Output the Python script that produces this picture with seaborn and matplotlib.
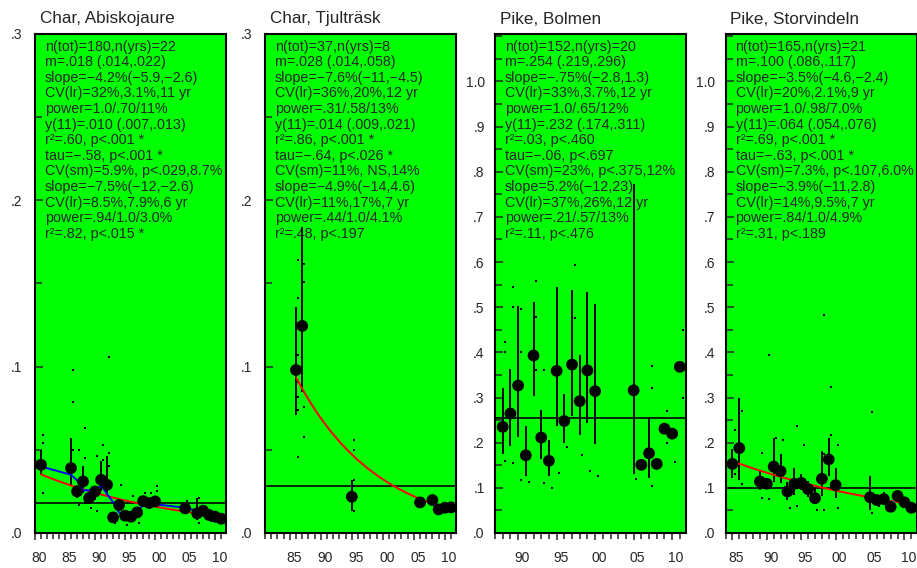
import numpy as np
import pandas as pd
import seaborn as sns
import matplotlib.pyplot as plt
import matplotlib.transforms as mtransforms
from matplotlib.ticker import MultipleLocator, FuncFormatter

sns.set_style("white")
plt.rcParams['font.family'] = ['Liberation Sans', 'DejaVu Sans']

nan = np.nan

# ---- Char, Abiskojaure
years1 = [1981, 1986, 1987, 1988, 1989, 1990, 1991, 1992, 1993, 1994, 1995, 1996, 1997, 1998, 1999, 2000,
          2005, 2007, 2008, 2009, 2010, 2011]
means1 = [.041, .039, .025, .031, .021, .025, .032, .029, .0094, .0168, .0104, .0098, .0124, .0192, .018, .019,
          .0148, .0118, .0134, .0108, .0098, .0086]
lo1 = [.035, .028, .021, .024, .018, .020, .025, .023, .0075, .013, .008, .007, .010, .0155, .016, .0155,
       .012, .008, .012, .009, .0085, .0075]
hi1 = [.050, .057, .029, .040, .025, .028, .043, .046, .011, .019, .0116, .013, .015, .021, .020, .021,
       .017, .021, .015, .012, .011, .0095]
ind_years1 = [1981, 1981, 1981, 1986, 1986, 1986, 1987, 1987, 1988, 1988, 1988, 1989, 1990, 1990, 1991, 1991,
              1992, 1992, 1992, 1993, 1994, 1995, 1996, 1997, 1998, 1999, 2000, 2000, 2005, 2007, 2007, 2008,
              2009, 2011]
ind_vals1 = [.059, .054, .024, .098, .079, .050, .050, .017, .063, .045, .018, .015, .046, .013, .053, .044,
             .106, .048, .040, .006, .029, .005, .022, .006, .024, .024, .028, .025, .019, .021, .006, .011,
             .007, .009]
stats1 = ["n(tot)=180,n(yrs)=22", "m=.018 (.014,.022)", "slope=\u22124.2%(\u22125.9,\u22122.6)",
          "CV(lr)=32%,3.1%,11 yr", "power=1.0/.70/11%", "y(11)=.010 (.007,.013)", "r\u00b2=.60, p<.001 *",
          "tau=\u2212.58, p<.001 *", "CV(sm)=5.9%, p<.029,8.7%", "slope=\u22127.5%(\u221212,\u22122.6)",
          "CV(lr)=8.5%,7.9%,6 yr", "power=.94/1.0/3.0%", "r\u00b2=.82, p<.015 *"]

# ---- Char, Tjulträsk
years2 = [1986, 1987, 1995, 2006, 2008, 2009, 2010, 2011]
means2 = [.098, .1245, .0218, .0184, .0198, .0142, .0152, .0154]
lo2 = [.071, .085, .013, nan, nan, nan, nan, nan]
hi2 = [.136, .184, .032, nan, nan, nan, nan, nan]
ind_years2 = [1986, 1986, 1986, 1986, 1986, 1986, 1986, 1987, 1987, 1987, 1987, 1987,
              1995, 1995, 1995, 1995, 1995, 1995]
ind_vals2 = [.164, .141, .107, .091, .082, .074, .0455, .162, .151, .085, .076, .058,
             .056, .050, .032, .028, .020, .013]
stats2 = ["n(tot)=37,n(yrs)=8", "m=.028 (.014,.058)", "slope=\u22127.6%(\u221211,\u22124.5)",
          "CV(lr)=36%,20%,12 yr", "power=.31/.58/13%", "y(11)=.014 (.009,.021)", "r\u00b2=.86, p<.001 *",
          "tau=\u2212.64, p<.026 *", "CV(sm)=11%, NS,14%", "slope=\u22124.9%(\u221214,4.6)",
          "CV(lr)=11%,17%,7 yr", "power=.44/1.0/4.1%", "r\u00b2=.48, p<.197"]

# ---- Pike, Bolmen
years3 = [1988, 1989, 1990, 1991, 1992, 1993, 1994, 1995, 1996, 1997, 1998, 1999, 2000,
          2005, 2006, 2007, 2008, 2009, 2010, 2011]
means3 = [.235, .2645, .3266, .172, .393, .2113, .160, .359, .248, .373, .292, .36, .314,
          .316, .151, .1766, .153, .231, .220, .368]
lo3 = [.174, .192, .213, .127, .303, .163, .127, .238, .200, .259, .216, .244, .196,
       .131, nan, .122, nan, nan, nan, nan]
hi3 = [.321, .364, .502, .236, .512, .273, .205, .545, .308, .538, .395, .533, .508,
       .772, nan, .257, nan, nan, nan, nan]
ind_years3 = [1988, 1988, 1988, 1989, 1989, 1989, 1990, 1990, 1990, 1991, 1992, 1992, 1992, 1993, 1993, 1994,
              1995, 1996, 1997, 1997, 1998, 1999, 2000, 2005, 2007, 2007, 2007, 2009, 2009, 2010, 2011, 2011]
ind_vals3 = [.423, .40, .16, .545, .50, .155, .497, .40, .117, .113, .559, .478, .36, .36, .110, .10,
             .132, .19, .593, .476, .172, .137, .126, .12, .37, .32, .1035, .27, .20, .157, .449, .30]
stats3 = ["n(tot)=152,n(yrs)=20", "m=.254 (.219,.296)", "slope=\u2212.75%(\u22122.8,1.3)",
          "CV(lr)=33%,3.7%,12 yr", "power=1.0/.65/12%", "y(11)=.232 (.174,.311)", "r\u00b2=.03, p<.460",
          "tau=\u2212.06, p<.697", "CV(sm)=23%, p<.375,12%", "slope=5.2%(\u221212,23)",
          "CV(lr)=37%,26%,12 yr", "power=.21/.57/13%", "r\u00b2=.11, p<.476"]

# ---- Pike, Storvindeln
years4 = [1985, 1986, 1989, 1990, 1991, 1992, 1993, 1994, 1995, 1996, 1997, 1998, 1999, 2000,
          2005, 2006, 2007, 2008, 2009, 2010, 2011]
means4 = [.153, .188, .114, .109, .147, .137, .092, .109, .111, .097, .077, .120, .163, .106,
          .079, .073, .075, .058, .082, .068, .056]
lo4 = [.122, .118, .096, .100, .114, .111, .074, .085, .095, .080, .0675, .081, .1255, .0776,
       .0517, nan, .065, nan, nan, nan, nan]
hi4 = [.185, .298, .137, .120, .211, .174, .114, .144, .130, .115, .100, .181, .211, .144,
       .1255, nan, .090, nan, nan, nan, nan]
ind_years4 = [1985, 1985, 1986, 1986, 1989, 1989, 1990, 1990, 1991, 1992, 1993, 1994, 1994, 1995, 1997, 1998,
              1998, 1998, 1999, 1999, 2000, 2000, 2005, 2005, 2006, 2009, 2011]
ind_vals4 = [.228, .13, .27, .108, .177, .078, .395, .075, .21, .205, .055, .236, .06, .195, .05, .482,
             .175, .052, .324, .216, .195, .056, .267, .045, .06, .09, .047]
stats4 = ["n(tot)=165,n(yrs)=21", "m=.100 (.086,.117)", "slope=\u22123.5%(\u22124.6,\u22122.4)",
          "CV(lr)=20%,2.1%,9 yr", "power=1.0/.98/7.0%", "y(11)=.064 (.054,.076)", "r\u00b2=.69, p<.001 *",
          "tau=\u2212.63, p<.001 *", "CV(sm)=7.3%, p<.107,6.0%", "slope=\u22123.9%(\u221211,2.8)",
          "CV(lr)=14%,9.5%,7 yr", "power=.84/1.0/4.9%", "r\u00b2=.31, p<.189"]

titles = ['Char, Abiskojaure', 'Char, Tjulträsk', 'Pike, Bolmen', 'Pike, Storvindeln']
overall_mean = [.018, .028, .254, .100]
slopes = [-.042, -.076, None, -.035]   # log-linear trend, drawn only when significant
y_last = [.010, .014, .232, .064]
recent_from = [None, 2006, None, 2005]  # start year of the short-term regression line

panels = [
    (years1, means1, lo1, hi1, ind_years1, ind_vals1, stats1),
    (years2, means2, lo2, hi2, ind_years2, ind_vals2, stats2),
    (years3, means3, lo3, hi3, ind_years3, ind_vals3, stats3),
    (years4, means4, lo4, hi4, ind_years4, ind_vals4, stats4),
]

W, H = 917, 568
fig = plt.figure(figsize=(W / 100, H / 100), dpi=100)
lefts = [35, 265, 495, 725.5]
xlims = [(1980, 2011.8), (1981, 2011.8), (1987, 2011.8), (1984, 2011.75)]
ymaxs = [0.3, 0.3, 1.105, 1.105]
ypads = [9.2, 9.2, 7.4, 7.4]

def fmt_y(v, pos):
    s = f"{v:.1f}"
    return s[1:] if s.startswith("0") else s

for i, (yrs, mns, lo, hi, iy, iv, stats) in enumerate(panels):
    ax = fig.add_axes([lefts[i] / W, 35 / H, 191 / W, 499 / H])
    ax.set_facecolor('#00ff00')
    yrs = np.array(yrs, dtype=float)
    mns = np.array(mns)
    lo = np.array(lo)
    hi = np.array(hi)

    # stats text (behind the data)
    for k, line in enumerate(stats):
        base = 50.5 + 15.6 * k
        ax.text(10 / 191, 1 - (base - 34) / 499, line, transform=ax.transAxes,
                fontsize=10.3, va='baseline', ha='left', zorder=1)

    ax.axhline(overall_mean[i], color='black', lw=1.2, zorder=2)

    ok = ~np.isnan(lo)
    ax.vlines(yrs[ok], lo[ok], hi[ok], color='black', lw=1.4, zorder=3)

    sns.scatterplot(x=np.array(iy) + 0.35, y=iv, marker='s', s=2.5, color='black',
                    linewidth=0, ax=ax, zorder=3, legend=False)

    if slopes[i] is not None:
        xs = np.linspace(yrs[0], 2011, 120)
        ys = y_last[i] * np.exp(slopes[i] * (xs - 2011))
        sns.lineplot(x=xs, y=ys, color='red', lw=1.4, ax=ax, zorder=4, errorbar=None)

    if i == 0:
        smooth = pd.Series(mns).rolling(3, center=True, min_periods=1).mean()
        sns.lineplot(x=yrs, y=smooth.values, color='blue', lw=1.4, ax=ax, zorder=4,
                     errorbar=None, sort=False)

    if recent_from[i] is not None:
        sel = yrs >= recent_from[i]
        b, a = np.polyfit(yrs[sel], np.log(mns[sel]), 1)
        xs = np.linspace(yrs[sel][0], 2011, 30)
        sns.lineplot(x=xs, y=np.exp(a + b * xs), color='#22c8ff', lw=1.4, ax=ax,
                     zorder=4, errorbar=None, linestyle=(0, (3, 2)))

    sns.scatterplot(x=yrs, y=mns, color='black', s=72, edgecolor='none', ax=ax,
                    zorder=5, legend=False)

    ax.set_xlim(*xlims[i])
    ax.set_ylim(0, ymaxs[i])
    ax.set_xlabel('')
    ax.set_ylabel('')

    ax.xaxis.set_major_locator(MultipleLocator(5))
    ax.xaxis.set_minor_locator(MultipleLocator(1))
    ax.xaxis.set_major_formatter(FuncFormatter(lambda v, p: f"{int(round(v)) % 100:02d}"))
    ax.yaxis.set_major_locator(MultipleLocator(0.1))
    ax.yaxis.set_minor_locator(MultipleLocator(0.05))
    ax.yaxis.set_major_formatter(FuncFormatter(fmt_y))
    ax.tick_params(axis='x', which='major', direction='out', length=5, width=1.1,
                   labelsize=10, pad=8, bottom=True)
    ax.tick_params(axis='x', which='minor', direction='out', length=4, width=1.1, bottom=True)
    ax.tick_params(axis='y', which='major', direction='in', length=6, width=1.1,
                   labelsize=10, pad=ypads[i], left=True)
    ax.tick_params(axis='y', which='minor', direction='in', length=5, width=1.1, left=True)
    if ymaxs[i] > 1:
        ax.set_yticks(np.arange(0, 1.01, 0.1))

    offset = mtransforms.ScaledTranslation(4 / 100, 0, fig.dpi_scale_trans)
    for lab in ax.xaxis.get_majorticklabels():
        lab.set_transform(lab.get_transform() + offset)

    for sp in ax.spines.values():
        sp.set_color('black')
        sp.set_linewidth(1.5)

    ax.text(5 / 191, 1 + 10.5 / 499, titles[i], transform=ax.transAxes,
            fontsize=12.3, va='baseline', ha='left')

fig.savefig('out.png', dpi=100)
